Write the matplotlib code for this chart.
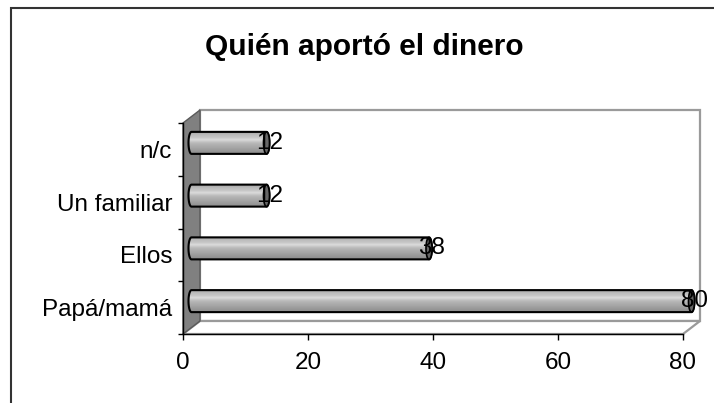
import numpy as np
import matplotlib
matplotlib.use("Agg")
import matplotlib.pyplot as plt
from matplotlib.patches import Polygon, Rectangle, Ellipse
from matplotlib.colors import LinearSegmentedColormap

# ---- data ----
categories = ["Papá/mamá", "Ellos", "Un familiar", "n/c"]
values = [80, 38, 12, 12]
x_ticks = [0, 20, 40, 60, 80]
title = "Quién aportó el dinero"

plt.rcParams["font.family"] = ["Liberation Sans", "DejaVu Sans"]

W, H, DPI = 714, 403, 100
fig = plt.figure(figsize=(W / DPI, H / DPI), dpi=DPI)
fig.patch.set_facecolor("white")

# front face of the 3-D box, in pixels
L, R, T, B = 183, 683, 123, 334
ax = fig.add_axes([L / W, 1 - B / H, (R - L) / W, (B - T) / H])
ax.set_facecolor("none")

xmin, xmax = x_ticks[0], x_ticks[-1]
n = len(categories)
ylo, yhi = -0.5, n - 0.5
ax.set_xlim(xmin, xmax)
ax.set_ylim(ylo, yhi)

# data units per pixel, used for the depth offset and cylinder size
sx = (xmax - xmin) / (R - L)
sy = (yhi - ylo) / (B - T)
DX, DY = 17 * sx, 13 * sy          # box depth
EX, RY = 3 * sx, 11 * sy           # cylinder end radius (x) and radius (y)

wall_edge = "#9a9a9a"

# back wall
ax.add_patch(Rectangle((xmin + DX, ylo + DY), xmax - xmin, yhi - ylo,
                       fc="white", ec=wall_edge, lw=1.6, clip_on=False, zorder=0.5))
# floor
ax.add_patch(Polygon([(xmin, ylo), (xmax, ylo), (xmax + DX, ylo + DY), (xmin + DX, ylo + DY)],
                     closed=True, fc="white", ec=wall_edge, lw=1.6, clip_on=False, zorder=0.6))
# side wall
ax.add_patch(Polygon([(xmin, ylo), (xmin, yhi), (xmin + DX, yhi + DY), (xmin + DX, ylo + DY)],
                     closed=True, fc="#808080", ec="#5a5a5a", lw=1.0, clip_on=False, zorder=0.7))

# cylinder shading, bottom -> top
shade = LinearSegmentedColormap.from_list(
    "cyl",
    [(0.0, "#8c8c8c"), (0.2, "#9e9e9e"), (0.5, "#b8b8b8"),
     (0.66, "#dcdcdc"), (0.74, "#c8c8c8"), (0.9, "#bababa"), (1.0, "#a4a4a4")])
grad = np.linspace(0, 1, 64).reshape(-1, 1)

t_left = np.linspace(np.pi / 2, 3 * np.pi / 2, 40)
t_right = np.linspace(-np.pi / 2, np.pi / 2, 40)

for i, v in enumerate(values):
    yc = i + DY / 2
    x0 = xmin + DX / 2
    x1 = v + DX / 2
    pts = np.concatenate([
        np.column_stack([x0 + EX * np.cos(t_left), yc + RY * np.sin(t_left)]),
        np.column_stack([x1 + EX * np.cos(t_right), yc + RY * np.sin(t_right)]),
    ])
    body = Polygon(pts, closed=True, fc="none", ec="black", lw=1.5,
                   clip_on=False, zorder=3.2)
    ax.add_patch(body)
    im = ax.imshow(grad, cmap=shade, origin="lower", aspect="auto",
                   extent=[x0 - EX, x1 + EX, yc - RY, yc + RY],
                   interpolation="bilinear", zorder=3.0)
    im.set_clip_box(fig.bbox)
    im.set_clip_path(body)
    ax.add_patch(Ellipse((x1, yc), 2 * EX, 2 * RY, fc="#666666", ec="black",
                         lw=1.2, clip_on=False, zorder=3.3))
    ax.text(x1 + 3 * sx, yc, str(v), ha="center", va="center",
            fontsize=17.5, color="black", zorder=4, clip_on=False)

ax.set_xlim(xmin, xmax)
ax.set_ylim(ylo, yhi)

# axes
for side in ("top", "right"):
    ax.spines[side].set_visible(False)
for side in ("left", "bottom"):
    ax.spines[side].set_color("black")
    ax.spines[side].set_linewidth(1.0)
    ax.spines[side].set_zorder(2)

ax.set_xticks(x_ticks)
ax.set_xticklabels([str(t) for t in x_ticks])
ax.tick_params(axis="x", direction="out", length=4.3, width=1.0, pad=8.8,
               labelsize=17.5, colors="black")

ax.set_yticks(np.arange(n + 1) - 0.5)
ax.set_yticklabels([""] * (n + 1))
ax.set_yticks(np.arange(n), minor=True)
ax.set_yticklabels(categories, minor=True)
ax.tick_params(axis="y", which="major", direction="out", length=3.6, width=1.0)
ax.tick_params(axis="y", which="minor", length=0, pad=7.9, labelsize=17.5)

# title and outer chart border
fig.text(364 / W, 1 - 47 / H, title, ha="center", va="center",
         fontsize=21.5, fontweight="bold")
fig.add_artist(Rectangle((11 / W, -0.1), 1.0, (H - 8) / H + 0.1,
                         transform=fig.transFigure, fill=False,
                         ec="#333333", lw=1.5))

fig.savefig("out.png", dpi=DPI, facecolor="white")
